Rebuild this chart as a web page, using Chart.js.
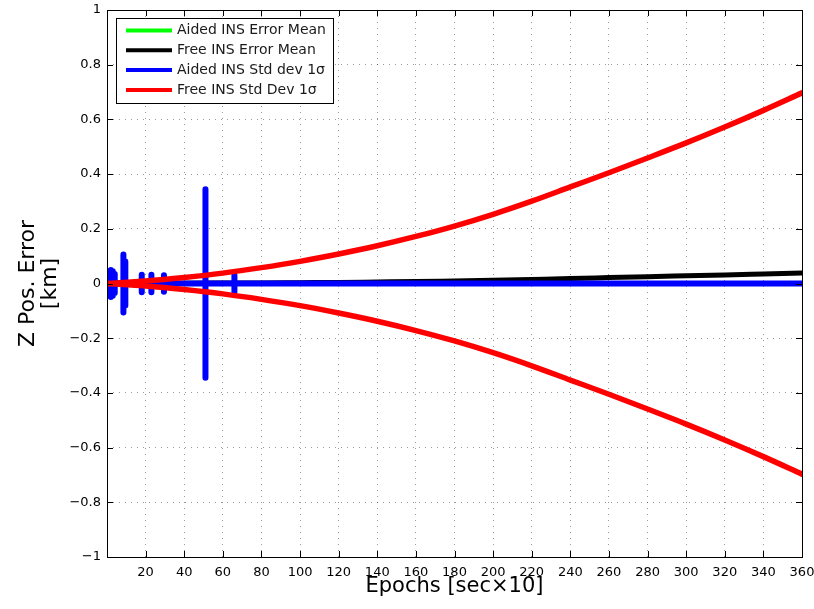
<!DOCTYPE html>
<html>
<head>
<meta charset="utf-8">
<script src="https://cdn.jsdelivr.net/npm/chart.js@4.4.0/dist/chart.umd.min.js"></script>
<style>
  html, body { margin: 0; padding: 0; background: #ffffff; }
  #wrap { width: 814px; height: 609px; }
</style>
</head>
<body>
<div id="wrap"><canvas id="chart" width="814" height="609"></canvas></div>
<script>
// Epoch grid (sec x 10) for the smooth error curves
const epochs = [0, 20, 40, 60, 80, 100, 120, 140, 160, 180, 200, 220, 240, 260, 280, 300, 320, 340, 360];
// Free INS 1-sigma envelope (km), drawn as +/- curves
const freeStdDev = [0, 0.009, 0.022, 0.038, 0.058, 0.081, 0.108, 0.138, 0.172, 0.210, 0.253, 0.301, 0.353, 0.405, 0.459, 0.514, 0.572, 0.633, 0.697];
// Free INS mean error (km)
const freeMean = [0, 0.0003, 0.001, 0.0015, 0.002, 0.003, 0.004, 0.0055, 0.007, 0.0095, 0.012, 0.015, 0.018, 0.0215, 0.025, 0.028, 0.031, 0.0345, 0.038];
// Aided INS mean error (km)
const aidedMean = [0, 0, 0, 0, 0, 0, 0, 0, 0, 0, 0, 0, 0, 0, 0, 0, 0, 0, 0];
// Aided INS 1-sigma: epochs where the filter spreads out, and the spread there (km)
const aidedStdEpochs = [0, 1, 2, 3, 4, 8.5, 9.5, 18, 23, 29.5, 51, 66, 360];
const aidedStdPeaks = [0, 0.046, 0.049, 0.045, 0.035, 0.106, 0.08, 0.032, 0.032, 0.03, 0.345, 0.03, 0];

const xTickLabels = ['', '20', '40', '60', '80', '100', '120', '140', '160', '180', '200', '220', '240', '260', '280', '300', '320', '340', '360'];
const yTickLabels = ['\u22121', '\u22120.8', '\u22120.6', '\u22120.4', '\u22120.2', '0', '0.2', '0.4', '0.6', '0.8', '1'];
const seriesNames = ['Aided INS Error Mean', 'Free INS Error Mean', 'Aided INS Std dev 1\u03c3', 'Free INS Std Dev 1\u03c3'];
const seriesColors = ['#00ff00', '#000000', '#0000ff', '#ff0000'];

const FONT = 'DejaVu Sans';

const toPoints = (xs, ys) => xs.map((x, i) => ({ x: x, y: ys[i] }));

// aided sigma trace: up to +s, down to -s, back to zero at each listed epoch
const aidedStdPoints = [];
aidedStdEpochs.forEach((e, i) => {
  const s = aidedStdPeaks[i];
  if (s > 0) {
    aidedStdPoints.push({ x: e, y: 0 }, { x: e, y: s }, { x: e, y: -s }, { x: e, y: 0 });
  } else {
    aidedStdPoints.push({ x: e, y: 0 });
  }
});

const lineBase = {
  pointRadius: 0,
  fill: false,
  clip: 0,
  borderCapStyle: 'round',
  borderJoinStyle: 'round'
};

// Axes box with inward tick marks on all four sides
const boxTicks = {
  id: 'boxTicks',
  afterDatasetsDraw(chart) {
    const { ctx, chartArea: a, scales } = chart;
    const len = 6;
    ctx.save();
    ctx.strokeStyle = '#000';
    ctx.lineWidth = 1;
    ctx.beginPath();
    scales.x.ticks.forEach(t => {
      if (t.value <= scales.x.min || t.value >= scales.x.max) return;
      const px = Math.round(scales.x.getPixelForValue(t.value)) + 0.5;
      ctx.moveTo(px, a.bottom); ctx.lineTo(px, a.bottom - len);
      ctx.moveTo(px, a.top); ctx.lineTo(px, a.top + len);
    });
    scales.y.ticks.forEach(t => {
      if (t.value <= scales.y.min + 1e-9 || t.value >= scales.y.max - 1e-9) return;
      const py = Math.round(scales.y.getPixelForValue(t.value)) + 0.5;
      ctx.moveTo(a.left, py); ctx.lineTo(a.left + len, py);
      ctx.moveTo(a.right, py); ctx.lineTo(a.right - len, py);
    });
    ctx.stroke();
    ctx.strokeRect(Math.round(a.left) + 0.5, Math.round(a.top) + 0.5,
                   Math.round(a.right - a.left), Math.round(a.bottom - a.top));
    ctx.restore();
  }
};

// Legend box in the upper-left corner of the plot
const innerLegend = {
  id: 'innerLegend',
  afterDraw(chart) {
    const { ctx, chartArea: a } = chart;
    const x0 = a.left + 9, y0 = a.top + 8, w = 217, h = 85;
    ctx.save();
    ctx.fillStyle = '#fff';
    ctx.fillRect(x0, y0, w, h);
    ctx.strokeStyle = '#000';
    ctx.lineWidth = 1;
    ctx.strokeRect(Math.round(x0) + 0.5, Math.round(y0) + 0.5, w, h);
    ctx.font = '14px "' + FONT + '"';
    ctx.textBaseline = 'middle';
    ctx.textAlign = 'left';
    seriesNames.forEach((name, i) => {
      const ry = y0 + 12.5 + i * 19.8;
      ctx.strokeStyle = seriesColors[i];
      ctx.lineWidth = 4;
      ctx.beginPath();
      ctx.moveTo(x0 + 10, ry);
      ctx.lineTo(x0 + 56, ry);
      ctx.stroke();
      ctx.fillStyle = '#1a1a1a';
      ctx.fillText(name, x0 + 61, ry);
    });
    ctx.restore();
  }
};

Chart.defaults.font.family = FONT;
Chart.defaults.color = '#000';

new Chart(document.getElementById('chart'), {
  type: 'line',
  data: {
    datasets: [
      Object.assign({}, lineBase, { label: seriesNames[3], data: toPoints(epochs, freeStdDev), borderColor: seriesColors[3], borderWidth: 5.5, cubicInterpolationMode: 'monotone' }),
      Object.assign({}, lineBase, { label: seriesNames[3], data: toPoints(epochs, freeStdDev.map(v => -v)), borderColor: seriesColors[3], borderWidth: 5.5, cubicInterpolationMode: 'monotone' }),
      Object.assign({}, lineBase, { label: seriesNames[2], data: aidedStdPoints, borderColor: seriesColors[2], borderWidth: 6 }),
      Object.assign({}, lineBase, { label: seriesNames[1], data: toPoints(epochs, freeMean), borderColor: seriesColors[1], borderWidth: 5, cubicInterpolationMode: 'monotone' }),
      Object.assign({}, lineBase, { label: seriesNames[0], data: toPoints(epochs, aidedMean), borderColor: seriesColors[0], borderWidth: 5 })
    ]
  },
  options: {
    responsive: false,
    animation: false,
    events: [],
    layout: { padding: { left: 0, top: 10, right: 12, bottom: 0 } },
    plugins: { legend: { display: false }, tooltip: { enabled: false } },
    scales: {
      x: {
        type: 'linear',
        min: 0,
        max: 360,
        afterFit: s => { s.height = 52; s.paddingLeft = 0; s.paddingRight = 0; },
        ticks: {
          stepSize: 20,
          autoSkip: false,
          maxRotation: 0,
          padding: 8,
          font: { size: 13 },
          color: '#000',
          callback: v => xTickLabels[Math.round(v / 20)]
        },
        grid: { color: 'rgba(0,0,0,0.4)', lineWidth: 1, drawTicks: false },
        border: { display: false, dash: [1, 5] },
        title: { display: true, text: 'Epochs [sec\u00d710]', font: { size: 21, lineHeight: 1.0 }, color: '#000', padding: { top: 0, bottom: 12 } }
      },
      y: {
        type: 'linear',
        min: -1,
        max: 1,
        afterFit: s => { s.width = 107; s.paddingTop = 0; s.paddingBottom = 0; },
        ticks: {
          stepSize: 0.2,
          padding: 6,
          font: { size: 13 },
          color: '#000',
          callback: v => yTickLabels[Math.round((v + 1) / 0.2)]
        },
        grid: { color: 'rgba(0,0,0,0.4)', lineWidth: 1, drawTicks: false },
        border: { display: false, dash: [1, 5] },
        title: { display: true, text: ['Z Pos. Error', '[km]'], font: { size: 22, lineHeight: 1.0 }, color: '#000', padding: { top: 17, bottom: 0 } }
      }
    }
  },
  plugins: [boxTicks, innerLegend]
});
</script>
</body>
</html>
